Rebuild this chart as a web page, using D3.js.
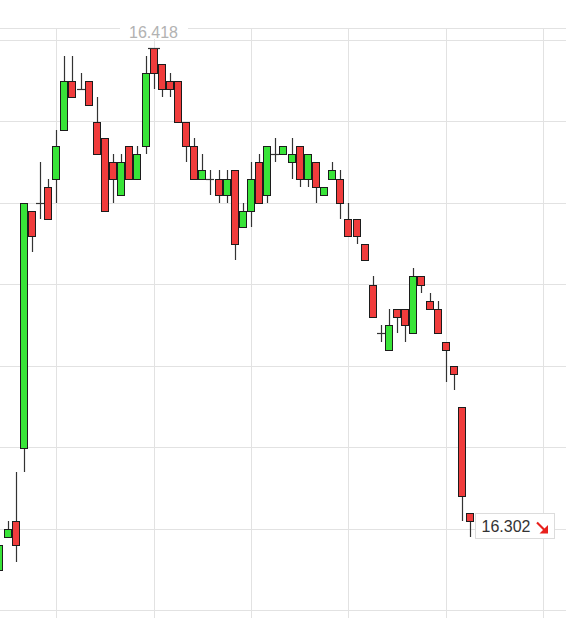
<!DOCTYPE html>
<html><head><meta charset="utf-8">
<script src="https://cdn.jsdelivr.net/npm/d3@7"></script>
<style>html,body{margin:0;padding:0;background:#fff;overflow:hidden}svg{display:block}</style>
</head><body>
<svg id="c" width="566" height="618"></svg>
<script>
// ---- data (candle index, OHLC) ----
const opens  = [16.290,16.298,16.302,16.320,16.378,16.380,16.384,16.386,16.398,16.410,
                16.408,16.410,16.400,16.396,16.390,16.382,16.394,16.386,16.394,16.418,
                16.414,16.410,16.410,16.400,16.394,16.386,16.386,16.386,16.382,16.388,
                16.374,16.378,16.390,16.382,16.392,16.392,16.390,16.394,16.386,16.390,
                16.382,16.386,16.386,16.376,16.376,16.370,16.360,16.348,16.344,16.354,
                16.354,16.348,16.362,16.356,16.354,16.346,16.340,16.330,16.304];
const highs  = [16.296,16.302,16.314,16.380,16.378,16.390,16.386,16.398,16.416,16.416,
                16.412,16.410,16.406,16.396,16.392,16.392,16.394,16.394,16.416,16.418,
                16.414,16.412,16.410,16.400,16.396,16.392,16.388,16.388,16.388,16.388,
                16.380,16.390,16.392,16.394,16.396,16.394,16.396,16.394,16.392,16.390,
                16.384,16.390,16.388,16.380,16.376,16.370,16.362,16.350,16.354,16.354,
                16.354,16.364,16.362,16.358,16.356,16.346,16.340,16.330,16.304];
const lows   = [16.290,16.298,16.292,16.314,16.368,16.376,16.376,16.380,16.398,16.406,
                16.408,16.404,16.392,16.378,16.380,16.382,16.386,16.386,16.392,16.408,
                16.406,16.406,16.400,16.390,16.386,16.386,16.382,16.380,16.380,16.366,
                16.374,16.374,16.380,16.380,16.390,16.392,16.386,16.384,16.384,16.380,
                16.382,16.386,16.376,16.372,16.370,16.366,16.352,16.346,16.344,16.348,
                16.346,16.348,16.358,16.354,16.348,16.336,16.334,16.302,16.298];
const closes = [16.296,16.300,16.296,16.380,16.372,16.380,16.376,16.394,16.410,16.406,
                16.408,16.404,16.392,16.378,16.386,16.390,16.386,16.392,16.412,16.412,
                16.408,16.408,16.400,16.394,16.386,16.388,16.386,16.382,16.386,16.370,
                16.378,16.386,16.380,16.394,16.392,16.394,16.392,16.386,16.392,16.384,
                16.384,16.388,16.380,16.372,16.372,16.366,16.352,16.348,16.350,16.352,
                16.350,16.362,16.360,16.354,16.348,16.344,16.338,16.308,16.302];
const priceGrid = [16.28,16.30,16.32,16.34,16.36,16.38,16.40,16.42];
const timeGrid  = [7,19,31,43,55,67];   // hourly marks (every 12 candles)
const highLabel = "16.418";
const lastLabel = "16.302";

// ---- drawing ----
const W = 566, H = 618;
const svg = d3.select('#c');
const x = d3.scaleLinear().domain([0, 67]).range([-0.1, 543.74]);
const y = d3.scaleLinear().domain([16.28, 16.42]).range([610.5, 40]);
const gridColor = '#e2e2e2';

const data = opens.map((o,i)=>({i, o, h:highs[i], l:lows[i], c:closes[i]}));

const g = svg.append('g');
// top border
g.append('line').attr('x1',0).attr('x2',W).attr('y1',28.5).attr('y2',28.5)
  .attr('stroke',gridColor).attr('stroke-width',1);
g.selectAll('line.h').data(priceGrid).join('line').attr('class','h')
  .attr('x1',0).attr('x2',W)
  .attr('y1',d=>Math.floor(y(d))+0.5).attr('y2',d=>Math.floor(y(d))+0.5)
  .attr('stroke',gridColor).attr('stroke-width',1);
g.selectAll('line.v').data(timeGrid).join('line').attr('class','v')
  .attr('x1',d=>Math.floor(x(d))+0.5).attr('x2',d=>Math.floor(x(d))+0.5)
  .attr('y1',28).attr('y2',H)
  .attr('stroke',gridColor).attr('stroke-width',1);

const cx = d => Math.floor(x(d.i));
const cg = svg.append('g');
// wicks
cg.selectAll('line.w').data(data).join('line').attr('class','w')
  .attr('x1',d=>cx(d)+0.5).attr('x2',d=>cx(d)+0.5)
  .attr('y1',d=>Math.round(y(d.h))).attr('y2',d=>Math.round(y(d.l)))
  .attr('stroke','#333').attr('stroke-width',1.2);
// bodies
const bodies = data.filter(d=>d.o!==d.c);
cg.selectAll('rect.b').data(bodies).join('rect').attr('class','b')
  .attr('x',d=>cx(d)-3.5).attr('width',7)
  .attr('y',d=>Math.round(y(Math.max(d.o,d.c)))+0.5)
  .attr('height',d=>Math.round(y(Math.min(d.o,d.c)))-Math.round(y(Math.max(d.o,d.c))))
  .attr('fill',d=>d.c>d.o?'#38e438':'#f03c3c')
  .attr('stroke','#1c1c1c').attr('stroke-width',1);
// doji
const dojis = data.filter(d=>d.o===d.c);
cg.selectAll('line.d').data(dojis).join('line').attr('class','d')
  .attr('x1',d=>cx(d)-4).attr('x2',d=>cx(d)+4)
  .attr('y1',d=>Math.round(y(d.o))+0.5).attr('y2',d=>Math.round(y(d.o))+0.5)
  .attr('stroke','#333').attr('stroke-width',1.2);

// max high marker & label
const maxD = data.reduce((a,b)=>b.h>a.h?b:a, data[0]);
const mx = cx(maxD);
cg.append('line').attr('x1',mx-6).attr('x2',mx+6)
  .attr('y1',Math.round(y(maxD.h))+0.5).attr('y2',Math.round(y(maxD.h))+0.5)
  .attr('stroke','#333').attr('stroke-width',1.2);
svg.append('rect').attr('x',mx-34).attr('y',26).attr('width',68).attr('height',13).attr('fill','#fff');
svg.append('text').attr('x',mx-0.5).attr('y',38.3).attr('text-anchor','middle')
  .attr('font-family','"Liberation Sans", Arial, sans-serif').attr('font-size',16)
  .attr('fill','#b2b2b2').text(highLabel);

// last value label
const last = data[data.length-1];
const lx = cx(last) + 5.5, ly = Math.round(y(last.c)) - 7.5;
const lab = svg.append('g');
lab.append('rect').attr('x',lx).attr('y',ly).attr('width',79).attr('height',25)
  .attr('fill','#fff').attr('stroke','#dcdcdc').attr('stroke-width',1);
lab.append('text').attr('x',lx+6).attr('y',ly+18.2)
  .attr('font-family','"Liberation Sans", Arial, sans-serif').attr('font-size',16)
  .attr('fill','#333').text(lastLabel);
const ax = lx+61.5, ay = ly+9;
lab.append('path').attr('d',`M${ax},${ay} L${ax+8},${ay+8}`)
  .attr('stroke','#e8201c').attr('stroke-width',2.2).attr('fill','none');
lab.append('path').attr('d',`M${ax+11},${ay+2.5} L${ax+11},${ay+11} L${ax+2.5},${ay+11} Z`)
  .attr('fill','#e8201c');
</script>
</body></html>
